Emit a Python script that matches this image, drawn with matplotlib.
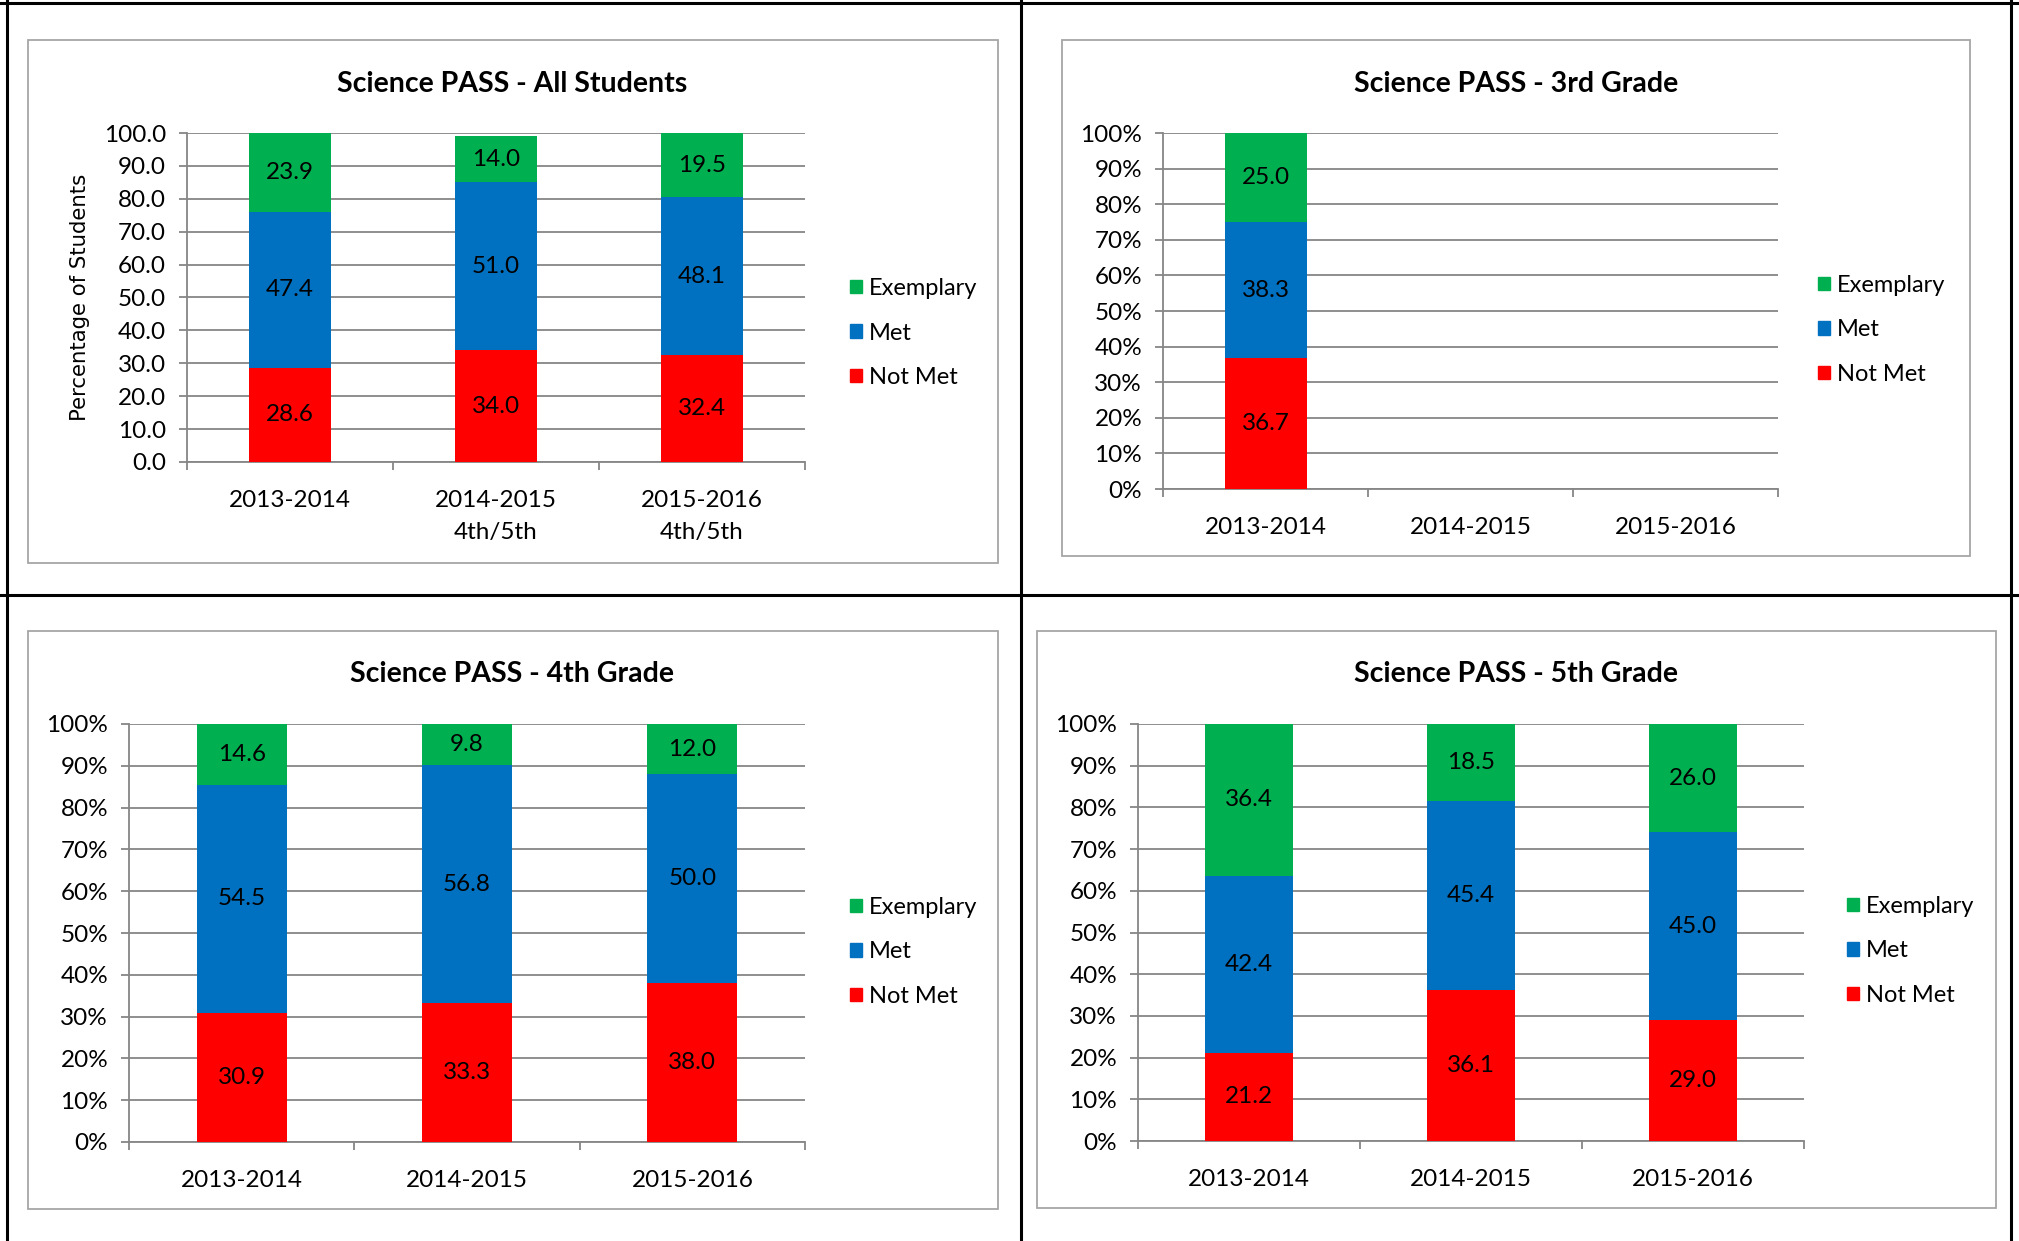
import numpy as np
import matplotlib.pyplot as plt
from matplotlib.patches import Rectangle, Patch
from matplotlib.lines import Line2D
from matplotlib.ticker import FixedLocator, FuncFormatter

plt.rcParams['font.family'] = ['Lato', 'DejaVu Sans']

years = ['2013-2014', '2014-2015', '2015-2016']
years_all = ['2013-2014', '2014-2015\n4th/5th', '2015-2016\n4th/5th']
series = ['Exemplary', 'Met', 'Not Met']
colors = {'Not Met': '#FF0000', 'Met': '#0070C0', 'Exemplary': '#00B050'}

all_not_met = [28.6, 34.0, 32.4]
all_met = [47.4, 51.0, 48.1]
all_exemplary = [23.9, 14.0, 19.5]

g3_not_met = [36.7, np.nan, np.nan]
g3_met = [38.3, np.nan, np.nan]
g3_exemplary = [25.0, np.nan, np.nan]

g4_not_met = [30.9, 33.3, 38.0]
g4_met = [54.5, 56.8, 50.0]
g4_exemplary = [14.6, 9.8, 12.0]

g5_not_met = [21.2, 36.1, 29.0]
g5_met = [42.4, 45.4, 45.0]
g5_exemplary = [36.4, 18.5, 26.0]

W, H = 2019, 1241
fig = plt.figure(figsize=(W / 100, H / 100), dpi=100)


def box(x0, y0, x1, y1):
    return [x0 / W, 1 - y1 / H, (x1 - x0) / W, (y1 - y0) / H]


# outer table lines
for x0, y0, x1, y1 in [(0, 3, W, 3), (0, 595, W, 595), (7, 0, 7, H), (1021, 0, 1021, H), (2011, 0, 2011, H)]:
    fig.add_artist(Line2D([x0 / W, x1 / W], [1 - y0 / H, 1 - y1 / H], color='black', lw=2.2))

panels = [
    dict(title='Science PASS - All Students', labels=years_all, nm=all_not_met, met=all_met, ex=all_exemplary,
         frame=(28, 40, 998, 563), axes=(187, 133, 805, 462), ty=84, tx=512, leg=(850, 333), pct=False),
    dict(title='Science PASS - 3rd Grade', labels=years, nm=g3_not_met, met=g3_met, ex=g3_exemplary,
         frame=(1062, 40, 1970, 556), axes=(1163, 133, 1778, 489), ty=84, tx=1516, leg=(1818, 330), pct=True),
    dict(title='Science PASS - 4th Grade', labels=years, nm=g4_not_met, met=g4_met, ex=g4_exemplary,
         frame=(28, 631, 998, 1209), axes=(129, 724, 805, 1142), ty=674, tx=512, leg=(850, 952), pct=True),
    dict(title='Science PASS - 5th Grade', labels=years, nm=g5_not_met, met=g5_met, ex=g5_exemplary,
         frame=(1037, 631, 1996, 1208), axes=(1138, 724, 1804, 1141), ty=674, tx=1516, leg=(1847, 951), pct=True),
]

grid_c = '#868686'
for p in panels:
    fx0, fy0, fx1, fy1 = p['frame']
    fig.add_artist(Rectangle((fx0 / W, 1 - fy1 / H), (fx1 - fx0) / W, (fy1 - fy0) / H,
                             transform=fig.transFigure, fill=False, edgecolor='#a6a6a6', lw=1.3))
    fig.text(p['tx'] / W, 1 - p['ty'] / H, p['title'], ha='center', va='center',
             fontsize=20.5, fontweight='bold')

    ax = fig.add_axes(box(*p['axes']))
    x = np.arange(3)
    nm = np.array(p['nm'])
    met = np.array(p['met'])
    ex = np.array(p['ex'])
    bottoms = [np.zeros(3), nm, nm + met]
    vals = [nm, met, ex]
    names = ['Not Met', 'Met', 'Exemplary']
    for v, b, n in zip(vals, bottoms, names):
        bars = ax.bar(x, v, 0.4, bottom=b, color=colors[n], zorder=3)
        ax.bar_label(bars, labels=['' if np.isnan(t) else f'{t:.1f}' for t in v],
                     label_type='center', fontsize=17.5, color='black')

    ax.set_xlim(-0.5, 2.5)
    ax.set_ylim(0, 100)
    ax.set_yticks(np.arange(0, 101, 10))
    if p['pct']:
        ax.yaxis.set_major_formatter(FuncFormatter(lambda v, pos: f'{v:.0f}%'))
    else:
        ax.yaxis.set_major_formatter(FuncFormatter(lambda v, pos: f'{v:.1f}'))
    ax.yaxis.grid(True, color=grid_c, lw=1.3)
    ax.set_axisbelow(True)

    ax.xaxis.set_major_locator(FixedLocator([-0.5, 0.5, 1.5, 2.5]))
    ax.xaxis.set_major_formatter(FuncFormatter(lambda v, pos: ''))
    ax.xaxis.set_minor_locator(FixedLocator(x))
    ax.set_xticklabels(p['labels'], minor=True, fontsize=17.5, linespacing=1.65)
    ax.tick_params(axis='x', which='major', length=6, color=grid_c, width=1.3)
    ax.tick_params(axis='x', which='minor', length=0, pad=20)
    ax.tick_params(axis='y', length=6, color=grid_c, width=1.3, labelsize=17.5, pad=9)

    for s in ['top', 'right']:
        ax.spines[s].set_visible(False)
    for s in ['left', 'bottom']:
        ax.spines[s].set_color(grid_c)
        ax.spines[s].set_linewidth(1.3)

    if not p['pct']:
        fig.text(80 / W, 1 - 297 / H, 'Percentage of Students', rotation=90, ha='center', va='center',
                 fontsize=15.3, family='DejaVu Sans')

    handles = [Patch(color=colors[n]) for n in series]
    lx, ly = p['leg']
    ax.legend(handles, series, loc='center left', bbox_to_anchor=(lx / W, 1 - ly / H),
              bbox_transform=fig.transFigure, frameon=False, fontsize=17, borderpad=0,
              borderaxespad=0, handlelength=0.5, handleheight=0.5, handletextpad=0.3,
              labelspacing=1.0)

fig.savefig('out.png', dpi=100)
